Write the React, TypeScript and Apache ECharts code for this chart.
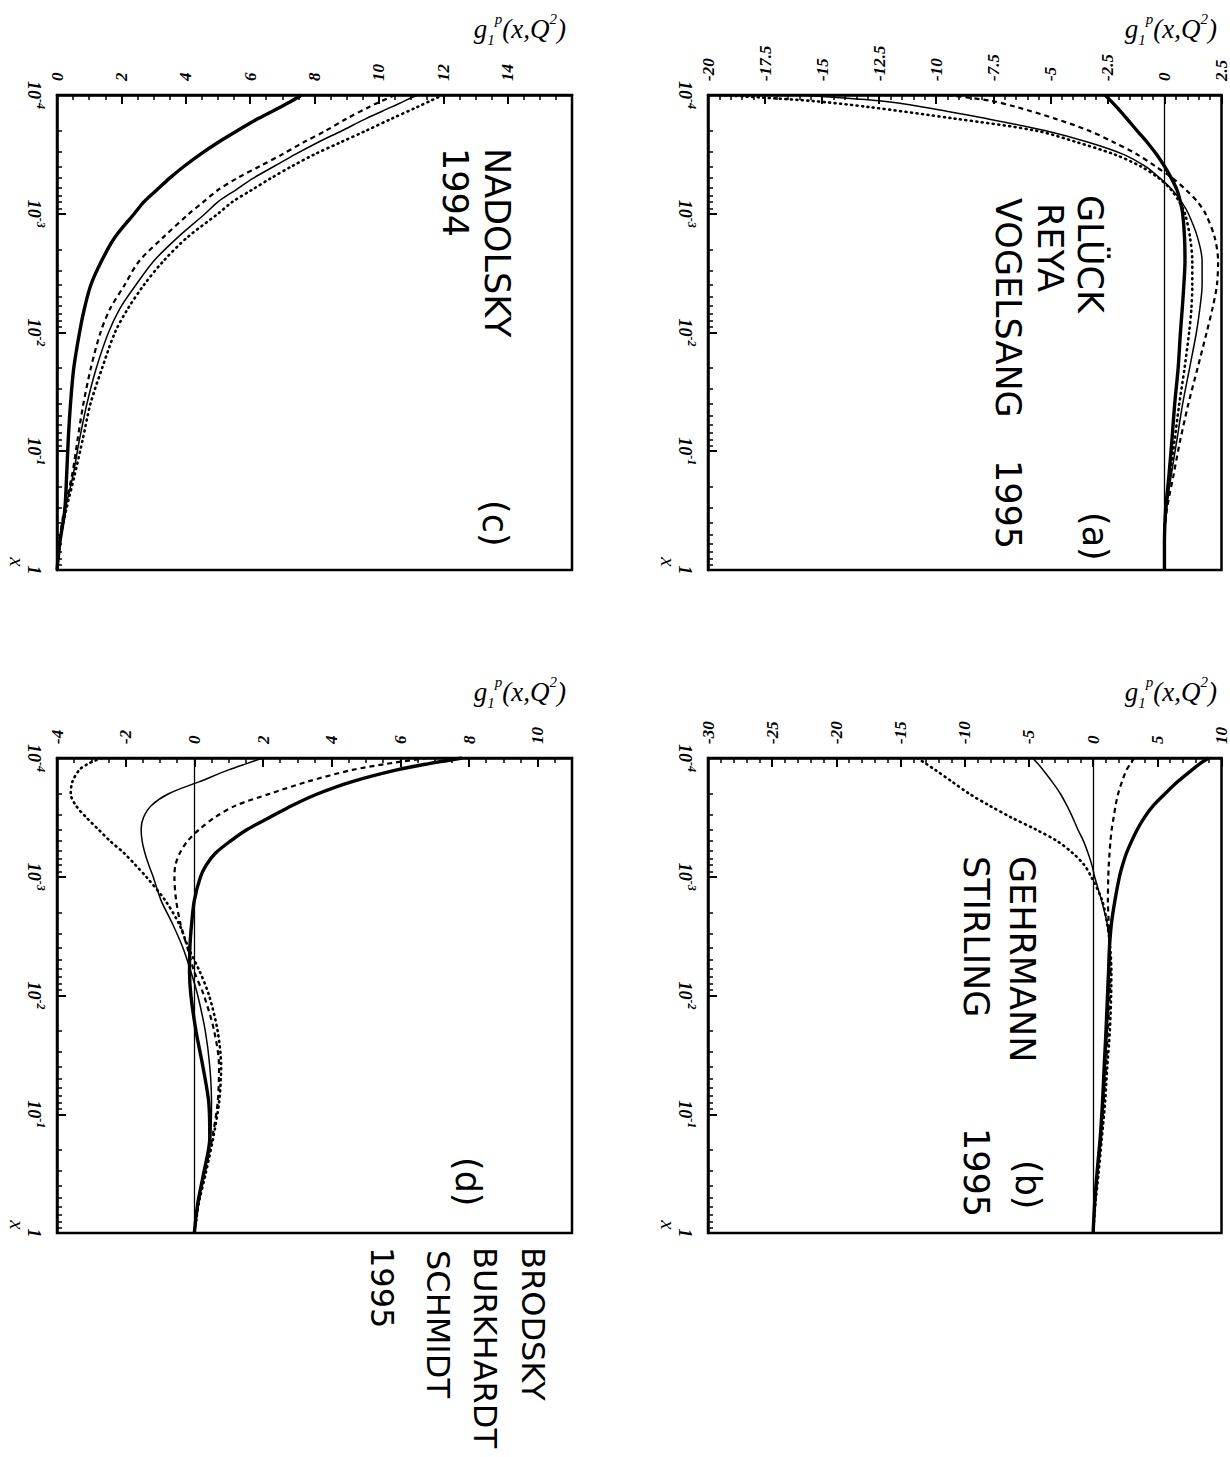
import React, { useEffect, useRef } from 'react';
import * as echarts from 'echarts';

// Bjorken-x sample positions shared by every curve (top of each frame = 1e-4, bottom = 1)
const X_SAMPLES = [
  0.0001, 0.000112, 0.000126, 0.000158, 0.0002, 0.000251, 0.000316, 0.000398,
  0.000501, 0.000631, 0.000794, 0.001, 0.00158, 0.00251, 0.00398, 0.00631,
  0.01, 0.02, 0.0398, 0.0794, 0.158, 0.316, 0.562, 1,
];

// g1 tick labels of each panel
const A_TICKS = [-20, -17.5, -15, -12.5, -10, -7.5, -5, -2.5, 0, 2.5];
const B_TICKS = [-30, -25, -20, -15, -10, -5, 0, 5, 10];
const C_TICKS = [0, 2, 4, 6, 8, 10, 12, 14];
const D_TICKS = [-4, -2, 0, 2, 4, 6, 8, 10];

// (a) Glück, Reya, Vogelsang 1995
const A_THICK = [-2.6, -2.35, -2.1, -1.65, -1.2, -0.75, -0.35, 0.0, 0.3, 0.55, 0.7, 0.8, 0.88, 0.9, 0.85, 0.78, 0.7, 0.6, 0.45, 0.33, 0.2, 0.05, 0.0, 0];
const A_THIN = [-16, -12.5, -10.6, -7.8, -5.2, -3.3, -1.8, -0.85, -0.2, 0.35, 0.75, 1.05, 1.45, 1.65, 1.65, 1.55, 1.4, 1.1, 0.8, 0.55, 0.3, 0.08, 0.0, 0];
const A_DASHED = [-9.5, -7.6, -6.5, -4.8, -3.3, -2.2, -1.2, -0.4, 0.35, 0.95, 1.45, 1.8, 2.2, 2.35, 2.3, 2.1, 1.85, 1.45, 1.05, 0.7, 0.4, 0.1, 0.0, 0];
const A_DOTTED = [-19.5, -15.5, -13, -9.2, -5.6, -3.8, -2.2, -1.05, -0.25, 0.3, 0.65, 0.9, 1.12, 1.22, 1.22, 1.18, 1.08, 0.88, 0.65, 0.45, 0.25, 0.06, 0.0, 0];

// (b) Gehrmann, Stirling 1995
const B_THICK = [9.0, 8.3, 7.7, 6.6, 5.6, 4.7, 4.0, 3.45, 3.0, 2.6, 2.3, 2.05, 1.7, 1.42, 1.27, 1.2, 1.12, 1.0, 0.86, 0.73, 0.55, 0.3, 0.12, 0];
const B_THIN = [-4.7, -4.3, -3.9, -3.2, -2.55, -2.05, -1.6, -1.2, -0.75, -0.4, -0.1, 0.12, 0.65, 1.1, 1.27, 1.27, 1.22, 1.1, 0.95, 0.8, 0.6, 0.33, 0.13, 0];
const B_DASHED = [3.2, 2.9, 2.6, 2.25, 1.95, 1.75, 1.6, 1.45, 1.35, 1.28, 1.22, 1.18, 1.15, 1.22, 1.3, 1.35, 1.3, 1.15, 1.0, 0.82, 0.62, 0.35, 0.14, 0];
const B_DOTTED = [-13.7, -13.0, -12.3, -11.0, -9.65, -8.1, -6.4, -4.5, -2.8, -1.6, -0.7, -0.15, 0.7, 1.1, 1.33, 1.42, 1.4, 1.3, 1.1, 0.93, 0.68, 0.42, 0.18, 0];

// (c) Nadolsky 1994
const C_THICK = [7.6, 7.3, 6.95, 6.25, 5.6, 5.0, 4.45, 3.95, 3.5, 3.1, 2.7, 2.4, 1.8, 1.38, 1.05, 0.85, 0.7, 0.52, 0.42, 0.35, 0.3, 0.24, 0.1, 0];
const C_THIN = [11.2, 10.8, 10.4, 9.6, 8.85, 8.1, 7.4, 6.75, 6.1, 5.55, 5.0, 4.6, 3.75, 3.0, 2.45, 1.95, 1.6, 1.22, 0.93, 0.7, 0.5, 0.25, 0.1, 0];
const C_DASHED = [10.5, 10.1, 9.7, 9.0, 8.35, 7.65, 7.0, 6.3, 5.6, 5.0, 4.55, 4.1, 3.3, 2.55, 2.1, 1.65, 1.35, 1.05, 0.82, 0.64, 0.47, 0.22, 0.08, 0];
const C_DOTTED = [12.0, 11.6, 11.2, 10.4, 9.6, 8.8, 8.0, 7.3, 6.65, 6.05, 5.45, 5.0, 4.05, 3.3, 2.7, 2.2, 1.8, 1.4, 1.04, 0.8, 0.55, 0.28, 0.1, 0];

// (d) Brodsky, Burkhardt, Schmidt 1995
const D_THICK = [7.8, 6.8, 5.9, 4.6, 3.6, 2.85, 2.2, 1.55, 1.05, 0.62, 0.35, 0.18, 0.0, -0.08, -0.13, -0.14, -0.1, 0.05, 0.25, 0.42, 0.45, 0.27, 0.1, 0];
const D_THIN = [2.0, 1.5, 1.0, 0.15, -0.75, -1.25, -1.48, -1.55, -1.52, -1.44, -1.33, -1.2, -0.97, -0.63, -0.33, -0.1, 0.1, 0.32, 0.45, 0.5, 0.47, 0.28, 0.1, 0];
const D_DASHED = [6.8, 5.6, 4.6, 3.3, 2.2, 1.21, 0.6, 0.15, -0.2, -0.42, -0.55, -0.58, -0.53, -0.4, -0.2, 0.0, 0.28, 0.58, 0.72, 0.68, 0.52, 0.3, 0.12, 0];
const D_DOTTED = [-2.7, -3.1, -3.35, -3.55, -3.6, -3.45, -3.15, -2.8, -2.45, -2.05, -1.72, -1.4, -0.85, -0.44, -0.17, 0.16, 0.43, 0.68, 0.78, 0.72, 0.55, 0.33, 0.13, 0];

const SERIF = "'Liberation Serif', 'DejaVu Serif', serif";
const HAND = "'DejaVu Sans', 'Liberation Sans', sans-serif";

const FRAME_W = 515;
const FRAME_H = 475;

const PANELS = [
  { left: 708, top: 95, min: -20, max: 2.5, major: 2.5, minor: 0.5, ticks: A_TICKS, curves: [A_THIN, A_DASHED, A_DOTTED, A_THICK], zeroLine: true },
  { left: 708, top: 758, min: -30, max: 10, major: 5, minor: 1, ticks: B_TICKS, curves: [B_THIN, B_DASHED, B_DOTTED, B_THICK], zeroLine: true },
  { left: 57, top: 95, min: 0, max: 16, major: 2, minor: 0.5, ticks: C_TICKS, curves: [C_THIN, C_DASHED, C_DOTTED, C_THICK], zeroLine: false },
  { left: 57, top: 758, min: -4, max: 11, major: 2, minor: 0.5, ticks: D_TICKS, curves: [D_THIN, D_DASHED, D_DOTTED, D_THICK], zeroLine: true },
];

// thin solid, dashed, dotted, thick solid
const LINE_STYLES: any[] = [
  { color: '#000', width: 1.5, type: 'solid' },
  { color: '#000', width: 2.2, type: [5, 4] },
  { color: '#000', width: 2.6, type: [1, 4.5], cap: 'round' },
  { color: '#000', width: 3.4, type: 'solid' },
];

// log-spaced minor ticks (2..9 in every decade), in decades
const MINOR_LOG: number[] = [];
for (let d = -4; d < 0; d++) {
  for (let k = 2; k <= 9; k++) MINOR_LOG.push(d + Math.log10(k));
}

const labelFont = { fontFamily: SERIF, fontStyle: 'italic', fontWeight: 'bold', color: '#000' };

function vText(text: string, cx: number, y: number, size: number, align = 'left', family = HAND, italic = false) {
  return {
    type: 'text',
    x: cx,
    y,
    rotation: -Math.PI / 2,
    z: 100,
    style: {
      text,
      fill: '#000',
      fontSize: size,
      fontFamily: family,
      fontStyle: italic ? 'italic' : 'normal',
      align,
      verticalAlign: 'middle',
    },
  };
}

function gLabel(right: number, top: number) {
  return {
    type: 'text',
    x: right,
    y: top,
    z: 100,
    style: {
      text: 'g{sub|1}{sup|p}(x,Q{sup|2})',
      fill: '#000',
      fontSize: 27,
      fontFamily: SERIF,
      fontStyle: 'italic',
      lineHeight: 36,
      align: 'right',
      verticalAlign: 'top',
      rich: {
        sub: { fontSize: 15, fontFamily: SERIF, fontStyle: 'italic', lineHeight: 16, verticalAlign: 'bottom' },
        sup: { fontSize: 15, fontFamily: SERIF, fontStyle: 'italic', lineHeight: 16, verticalAlign: 'top' },
      },
    },
  };
}

function buildOption() {
  const grid: any[] = [];
  const xAxis: any[] = [];
  const yAxis: any[] = [];
  const series: any[] = [];
  const graphic: any[] = [];

  PANELS.forEach((p, i) => {
    grid.push({
      left: p.left,
      top: p.top,
      width: FRAME_W,
      height: FRAME_H,
      show: true,
      borderColor: '#000',
      borderWidth: 2.5,
      backgroundColor: 'transparent',
      containLabel: false,
    });

    // g1 axis along the top edge, with its minor ticks on a twin axis
    xAxis.push({
      gridIndex: i,
      type: 'value',
      position: 'top',
      min: p.min,
      max: p.max,
      interval: p.major,
      axisLine: { show: true, onZero: false, lineStyle: { color: '#000', width: 2.5 } },
      axisTick: { show: true, inside: true, length: 9, lineStyle: { color: '#000', width: 2 } },
      axisLabel: { show: true, rotate: -90, margin: 14, fontSize: 17, customValues: p.ticks, ...labelFont },
      splitLine: { show: false },
    });
    xAxis.push({
      gridIndex: i,
      type: 'value',
      position: 'top',
      min: p.min,
      max: p.max,
      interval: p.minor,
      axisLine: { show: false, onZero: false },
      axisTick: { show: true, inside: true, length: 5, lineStyle: { color: '#000', width: 1.5 } },
      axisLabel: { show: false },
      splitLine: { show: false },
    });

    // x axis (log) down the left edge
    yAxis.push({
      gridIndex: i,
      type: 'log',
      logBase: 10,
      min: 0.0001,
      max: 1,
      inverse: true,
      position: 'left',
      axisLine: { show: true, onZero: false, lineStyle: { color: '#000', width: 2.5 } },
      axisTick: { show: true, inside: true, length: 9, lineStyle: { color: '#000', width: 2 } },
      axisLabel: {
        show: true,
        rotate: -90,
        margin: 10,
        formatter: (v: number) => {
          const e = Math.round(Math.log10(v));
          return e === 0 ? '{b|1}' : `{b|10}{e|${e}}`;
        },
        rich: {
          b: { fontSize: 18, lineHeight: 22, verticalAlign: 'bottom', ...labelFont },
          e: { fontSize: 12, lineHeight: 13, verticalAlign: 'top', ...labelFont },
        },
      },
      splitLine: { show: false },
    });
    yAxis.push({
      gridIndex: i,
      type: 'value',
      min: -4,
      max: 0,
      inverse: true,
      position: 'left',
      axisLine: { show: false, onZero: false },
      axisTick: { show: true, inside: true, length: 5, customValues: MINOR_LOG, lineStyle: { color: '#000', width: 1.5 } },
      axisLabel: { show: false },
      splitLine: { show: false },
    });

    p.curves.forEach((curve, k) => {
      const s: any = {
        type: 'line',
        xAxisIndex: i * 2,
        yAxisIndex: i * 2,
        data: X_SAMPLES.map((x, j) => [curve[j], x]),
        showSymbol: false,
        symbol: 'none',
        smooth: 0.3,
        clip: true,
        lineStyle: LINE_STYLES[k],
        z: 3 + k,
        silent: true,
      };
      if (k === 0 && p.zeroLine) {
        s.markLine = {
          silent: true,
          symbol: ['none', 'none'],
          label: { show: false },
          lineStyle: { color: '#000', width: 1.3, type: 'solid' },
          data: [{ xAxis: 0 }],
        };
      }
      series.push(s);
    });

    graphic.push(gLabel(p.left + FRAME_W - 6, p.top - 84));
    graphic.push(vText('x', p.left - 40, p.top + FRAME_H - 8, 21, 'center', SERIF, true));
  });

  // panel annotations
  graphic.push(vText('GLÜCK', 1090, 195, 35));
  graphic.push(vText('REYA', 1050, 203, 35));
  graphic.push(vText('VOGELSANG', 1008, 198, 35));
  graphic.push(vText('1995', 1008, 460, 35));
  graphic.push(vText('(a)', 1095, 512, 35));

  graphic.push(vText('GEHRMANN', 1022, 856, 35));
  graphic.push(vText('STIRLING', 976, 856, 35));
  graphic.push(vText('1995', 976, 1128, 35));
  graphic.push(vText('(b)', 1028, 1160, 35));

  graphic.push(vText('NADOLSKY', 497, 148, 35));
  graphic.push(vText('1994', 455, 148, 35));
  graphic.push(vText('(c)', 495, 500, 35));

  graphic.push(vText('(d)', 468, 1157, 35));
  graphic.push(vText('BRODSKY', 533, 1247, 32));
  graphic.push(vText('BURKHARDT', 485, 1247, 32));
  graphic.push(vText('SCHMIDT', 438, 1250, 32));
  graphic.push(vText('1995', 382, 1247, 32));

  return {
    animation: false,
    backgroundColor: '#fff',
    grid,
    xAxis,
    yAxis,
    series,
    graphic,
  };
}

export default function App() {
  const ref = useRef<HTMLDivElement>(null);
  useEffect(() => {
    if (!ref.current) return;
    const chart = echarts.init(ref.current, null, { renderer: 'svg' });
    chart.setOption(buildOption() as any);
    return () => chart.dispose();
  }, []);
  return (
    <div
      ref={ref}
      style={{ position: 'absolute', left: 0, top: 0, width: 1230, height: 1457, background: '#fff' }}
    />
  );
}
